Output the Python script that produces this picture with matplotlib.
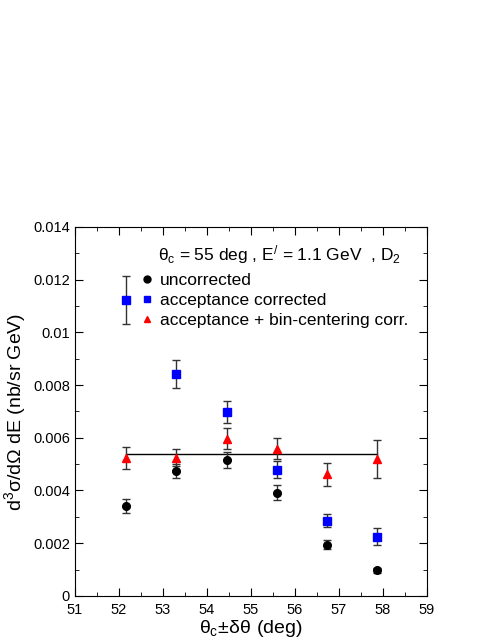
import matplotlib
matplotlib.use("Agg")
import matplotlib.pyplot as plt
from matplotlib.ticker import MultipleLocator
from matplotlib.lines import Line2D

plt.rcParams['font.family'] = ['Liberation Sans', 'DejaVu Sans']
plt.rcParams['mathtext.fontset'] = 'custom'
plt.rcParams['mathtext.rm'] = 'Liberation Sans'
plt.rcParams['mathtext.it'] = 'Liberation Sans'

theta = [52.15, 53.30, 54.45, 55.60, 56.73, 57.87]
uncorr = [0.00341, 0.00474, 0.00517, 0.00392, 0.00195, 0.00097]
uncorr_err = [0.00027, 0.00028, 0.00030, 0.00027, 0.00018, 0.00010]
acc = [0.01123, 0.00841, 0.00699, 0.00478, 0.00285, 0.00225]
acc_err = [0.00090, 0.00053, 0.00042, 0.00032, 0.00025, 0.00032]
bc = [0.00522, 0.00525, 0.00596, 0.00559, 0.00462, 0.00519]
bc_err = [0.00042, 0.00033, 0.00040, 0.00040, 0.00044, 0.00072]
fit_level = 0.00539
yticks = [0, 0.002, 0.004, 0.006, 0.008, 0.010, 0.012, 0.014]
ytick_labels = ['0', '0.002', '0.004', '0.006', '0.008', '0.01', '0.012', '0.014']

fig = plt.figure(figsize=(4.96, 6.42), dpi=100)
ax = fig.add_axes([0.151, 0.0717, 0.710, 0.575])

ax.plot([theta[0], theta[-1]], [fit_level, fit_level], color='black', lw=1.0, zorder=1)

ekw = dict(ls='none', ecolor='#333333', elinewidth=1.0, capsize=3, capthick=1.0, zorder=2)
ax.errorbar(theta, uncorr, yerr=uncorr_err, marker='o', ms=5.5, mfc='black', mec='black', **ekw)
ax.errorbar(theta, acc, yerr=acc_err, marker='s', ms=5.5, mfc='blue', mec='blue', **ekw)
ax.errorbar(theta, bc, yerr=bc_err, marker='^', ms=6, mfc='red', mec='red', **ekw)

ax.set_xlim(51, 59)
ax.set_ylim(0, 0.014)
ax.xaxis.set_major_locator(MultipleLocator(1))
ax.xaxis.set_minor_locator(MultipleLocator(0.5))
ax.set_yticks(yticks)
ax.set_yticklabels(ytick_labels)
ax.yaxis.set_minor_locator(MultipleLocator(0.001))
ax.tick_params(which='both', direction='in', top=True, right=True, labelsize=10.5)
ax.tick_params(which='major', length=6)
ax.tick_params(which='minor', length=3)
ax.tick_params(axis='x', pad=5)

ax.set_xlabel(r'$\theta_c\!\pm\!\delta\theta$ (deg)', fontsize=14, labelpad=1)
ax.set_ylabel(r'd$^3\sigma$/d$\Omega$ dE (nb/sr GeV)', fontsize=14, labelpad=4)

handles = [Line2D([], [], ls='none', marker='o', ms=5, mfc='black', mec='black'),
           Line2D([], [], ls='none', marker='s', ms=5, mfc='blue', mec='blue'),
           Line2D([], [], ls='none', marker='^', ms=5, mfc='red', mec='red')]
labels = ['uncorrected', 'acceptance corrected', 'acceptance + bin-centering corr.']
leg = ax.legend(handles, labels, loc='upper left', bbox_to_anchor=(0.17, 0.895),
                frameon=False, fontsize=12.5, handlelength=0.6, handletextpad=0.45,
                labelspacing=0.3, borderaxespad=0)
ax.text(0.235, 0.955, r"$\theta_c$ = 55 deg , E$^{/}$ = 1.1 GeV  , D$_2$",
        transform=ax.transAxes, fontsize=12.5, va='top', ha='left')

fig.savefig('out.png', dpi=100)
